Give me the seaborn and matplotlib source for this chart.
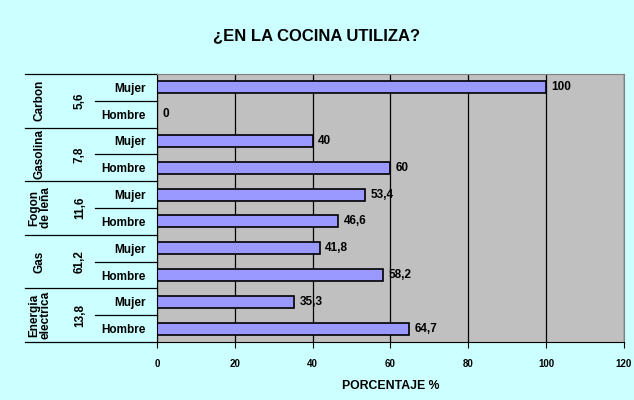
import matplotlib.pyplot as plt
import matplotlib.transforms as mtransforms
import seaborn as sns
import pandas as pd

categories = ["Carbon", "Gasolina", "Fogon\nde leña", "Gas", "Energia\nelectrica"]
category_shares = ["5,6", "7,8", "11,6", "61,2", "13,8"]
sexes = ["Mujer", "Hombre"]
mujer = [100, 40, 53.4, 41.8, 35.3]
hombre = [0, 60, 46.6, 58.2, 64.7]

rows = []
for i, cat in enumerate(categories):
    rows.append({"row": f"{i}-Mujer", "sexo": "Mujer", "valor": mujer[i]})
    rows.append({"row": f"{i}-Hombre", "sexo": "Hombre", "valor": hombre[i]})
df = pd.DataFrame(rows)

plt.rcParams["font.family"] = ["Liberation Sans", "DejaVu Sans"]
plt.rcParams["font.weight"] = "bold"

fig = plt.figure(figsize=(6.34, 4.0), dpi=100)
fig.patch.set_facecolor("#CCFFFF")
ax = fig.add_axes([0.2476, 0.145, 0.7366, 0.67])
ax.set_facecolor("#C0C0C0")

sns.barplot(data=df, x="valor", y="row", orient="h", color="#9999FF",
            edgecolor="black", linewidth=1.2, width=0.45, saturation=1, ax=ax)

ax.set_xlim(0, 120)
ax.set_xticks(range(0, 121, 20))
ax.set_ylim(9.5, -0.5)
ax.set_yticks(range(len(df)))
ax.set_yticklabels(df["sexo"], fontsize=8.5, fontweight="bold")
ax.tick_params(axis="y", length=0, pad=8)
ax.tick_params(axis="x", labelsize=7, length=4, pad=8)
for lbl in ax.get_xticklabels():
    lbl.set_fontweight("bold")

ax.grid(axis="x", color="black", linewidth=0.9)
ax.set_axisbelow(True)
ax.set_ylabel("")
ax.set_xlabel("PORCENTAJE %", fontsize=8.8, fontweight="bold", labelpad=8)

for side in ["top", "right"]:
    ax.spines[side].set_color("#808080")
for side in ["left", "bottom"]:
    ax.spines[side].set_color("black")

labels = [f"{v:g}".replace(".", ",") for v in df["valor"]]
ax.bar_label(ax.containers[0], labels=labels, padding=4, fontsize=8.5, fontweight="bold")

trans = mtransforms.blended_transform_factory(ax.transAxes, ax.transData)
for i, cat in enumerate(categories):
    yc = 2 * i + 0.5
    ax.text(-0.2505, yc, cat, rotation=90, ha="center", va="center", transform=trans,
            fontsize=8.5, fontweight="bold", linespacing=1.0)
    ax.text(-0.165, yc, category_shares[i], rotation=90, ha="center", va="center",
            transform=trans, fontsize=8.5, fontweight="bold")
    ax.plot([-0.283, 0], [2 * i - 0.5] * 2, color="black", lw=0.9, transform=trans, clip_on=False)
    ax.plot([-0.133, 0], [2 * i + 0.5] * 2, color="black", lw=0.9, transform=trans, clip_on=False)
ax.plot([-0.283, 0], [9.5, 9.5], color="black", lw=0.9, transform=trans, clip_on=False)

fig.text(0.5, 0.912, "¿EN LA COCINA UTILIZA?", ha="center", va="center",
         fontsize=12, fontweight="bold")

fig.savefig("out.png", dpi=100, facecolor=fig.get_facecolor())
